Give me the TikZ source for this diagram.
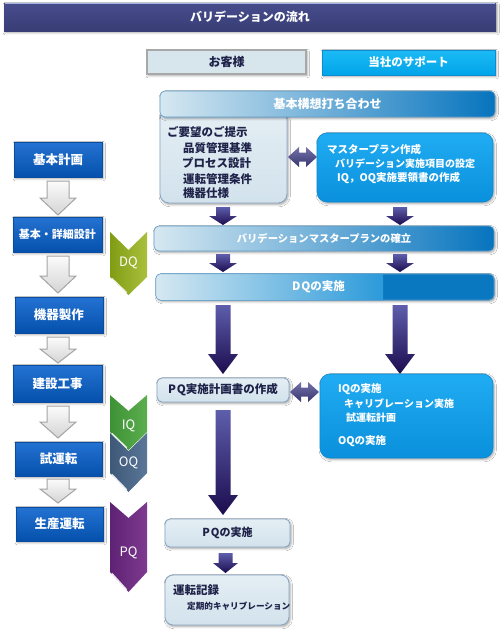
\documentclass[tikz,border=0pt]{standalone}
\usepackage{fontspec}
\setmainfont{Noto Sans CJK JP}
\usetikzlibrary{calc,shadows.blur}
\definecolor{titletop}{HTML}{474D8C}
\definecolor{titlebot}{HTML}{383D76}
\definecolor{titleedge}{HTML}{A7B4E6}
\definecolor{custfill}{HTML}{D7E5ED}
\definecolor{custdraw}{HTML}{A8A8A8}
\definecolor{supptop}{HTML}{1CBBF6}
\definecolor{suppbot}{HTML}{00A4E8}
\definecolor{barleft}{HTML}{D6E8F1}
\definecolor{barright}{HTML}{0674BE}
\definecolor{bardraw}{HTML}{5E9CC8}
\definecolor{lbtop}{HTML}{E4EEF4}
\definecolor{lbbot}{HTML}{D2E2EC}
\definecolor{lbdraw}{HTML}{8AA6C2}
\definecolor{cytop}{HTML}{20ACF2}
\definecolor{cybot}{HTML}{0A90DC}
\definecolor{cydraw}{HTML}{0C8AD2}
\definecolor{darktext}{HTML}{1E2248}
\definecolor{arrtop}{HTML}{5E5EAC}
\definecolor{arrbot}{HTML}{1C0C4E}
\definecolor{dbl}{HTML}{46438C}
\definecolor{leftop}{HTML}{2472D2}
\definecolor{lefbot}{HTML}{0450AC}
\definecolor{lefdraw}{HTML}{0A4C9E}
\definecolor{holtop}{HTML}{FBFBFB}
\definecolor{holbot}{HTML}{D4D4D4}
\definecolor{holdraw}{HTML}{A4A4A4}
\definecolor{dqa}{HTML}{809C14}
\definecolor{dqb}{HTML}{AAC03C}
\definecolor{iqa}{HTML}{3E9236}
\definecolor{iqb}{HTML}{5CAE4E}
\definecolor{oqa}{HTML}{3E5878}
\definecolor{oqb}{HTML}{5A7698}
\definecolor{pqa}{HTML}{5E2274}
\definecolor{pqb}{HTML}{7E3A90}
\definecolor{dqdark}{HTML}{0A78C0}
\definecolor{dqmid}{HTML}{2C9ADA}
\newcommand\jfs[1]{\fontsize{#1}{#1}\selectfont}
\newcommand\blockarrow[6]{%
  \path[#1] let \p1=(#2), \p2=(#3) in
    (\x1-#4,\y1) -- (\x1+#4,\y1) -- (\x1+#4,\y2+#6) -- (\x1+#5,\y2+#6)
    -- (\x1,\y2) -- (\x1-#5,\y2+#6) -- (\x1-#4,\y2+#6) -- cycle;}
\newcommand\dblarrow[2]{%
  \path[#2] let \p1=(#1) in
    (\x1-14.5pt,\y1) -- (\x1-3.5pt,\y1+10pt) -- (\x1-3.5pt,\y1+4.5pt)
    -- (\x1+3.5pt,\y1+4.5pt) -- (\x1+3.5pt,\y1+10pt) -- (\x1+14.5pt,\y1)
    -- (\x1+3.5pt,\y1-10pt) -- (\x1+3.5pt,\y1-4.5pt) -- (\x1-3.5pt,\y1-4.5pt)
    -- (\x1-3.5pt,\y1-10pt) -- cycle;}
\newcommand\chev[5]{%
  \path[#1] (110,#2) -- (128.5,#3) -- (147,#2) -- (147,#4) -- (128.5,#5) -- (110,#4) -- cycle;
  \draw[white,line width=1.3pt,opacity=0.85,line cap=round] (112,#4+1.5) -- (126.5,#5-2.5);}
\begin{document}
\begin{tikzpicture}[x=1pt,y=-1pt,
  sz/.style 2 args={minimum width=#1pt,minimum height=#2pt,inner sep=0pt},
  shad/.style={blur shadow={shadow xshift=1.2pt,shadow yshift=-1.6pt,shadow blur steps=4,shadow opacity=35}},
  titlebar/.style={top color=titletop,bottom color=titlebot,text=white,font=\jfs{12}\bfseries,shad},
  custbox/.style={fill=custfill,draw=custdraw,line width=1.2pt,text=darktext,font=\jfs{12}\bfseries,shad},
  suppbox/.style={top color=supptop,bottom color=suppbot,draw=cydraw,line width=0.6pt,text=white,font=\jfs{11.5}\bfseries,shad},
  barbox/.style={left color=barleft,right color=barright,draw=bardraw,line width=0.6pt,rounded corners=5pt,text=white,font=\jfs{12}\bfseries,shad},
  lbox/.style={top color=lbtop,bottom color=lbbot,draw=lbdraw,line width=0.9pt,rounded corners=5pt,text=darktext,font=\jfs{11.5}\bfseries,shad},
  cybox/.style={top color=cytop,bottom color=cybot,draw=cydraw,line width=0.6pt,rounded corners=10pt,shad},
  leftbox/.style={top color=leftop,bottom color=lefbot,draw=lefdraw,line width=0.8pt,text=white,font=\jfs{12.5}\bfseries,shad},
  dtxt/.style={anchor=west,inner sep=0pt,text=darktext,font=\jfs{11.5}\bfseries},
  wtxt/.style={anchor=west,inner sep=0pt,text=white,font=\jfs{10.5}\bfseries},
  darkarr/.style={top color=arrtop,bottom color=arrbot},
  hollow/.style={top color=holtop,bottom color=holbot,draw=holdraw,line width=1pt,line join=miter},
  dblstyle/.style={top color=dbl!75!white,bottom color=dbl!80!black},
  chevtxt/.style={inner sep=0pt,text=white,font=\jfs{13}}
]
\useasboundingbox (0,0) rectangle (500,632);
\fill[white] (0,0) rectangle (500,632);

% title and headers
\node[titlebar,sz={492}{28}] (title) at (250,17) {バリデーションの流れ};
\draw[titleedge,line width=1.5pt] ([xshift=1pt,yshift=-0.7pt]title.north west) -- ([xshift=-1pt,yshift=-0.7pt]title.north east);
\node[custbox,sz={159}{24}] (cust) at (226.5,62) {お客様};
\node[suppbox,sz={173}{25}] (supp) at (408.5,62.5) {当社のサポート};

% request box (drawn below the bar)
\node[lbox,rounded corners=9pt,sz={127}{93}] (req) at (223.5,156.5) {};
\node[barbox,sz={335}{26}] (kihon) at (327.5,104) {基本構想打ち合わせ};
\node[dtxt] (reqt) at (167,132) {ご要望のご提示};
\node[dtxt] (req1) at (183,148) {品質管理基準};
\node[dtxt] (req2) at (182,163) {プロセス設計};
\node[dtxt] (req3) at (183,179) {運転管理条件};
\node[dtxt] (req4) at (183,193.5) {機器仕様};

% master plan box
\node[cybox,sz={176}{69}] (mp) at (405,167.5) {};
\node[wtxt] (mp1) at (327,149) {マスタープラン作成};
\node[wtxt,font=\jfs{10}\bfseries] (mp2) at (335,164) {バリデーション実施項目の設定};
\node[wtxt] (mp3) at (337,178) {IQ，OQ実施要領書の作成};
\coordinate (d1) at (302.5,157);
\dblarrow{d1}{dblstyle}

% arrows to VMP
\coordinate (s1a) at (223,207); \coordinate (s1b) at (223,225);
\coordinate (s2a) at (400,207); \coordinate (s2b) at (400,225);
\blockarrow{darkarr}{s1a}{s1b}{7pt}{14pt}{9pt}
\blockarrow{darkarr}{s2a}{s2b}{7pt}{14pt}{9pt}

\node[barbox,sz={340}{25},font=\jfs{10.3}\bfseries] (vmp) at (324,238.5) {バリデーションマスタープランの確立};

\coordinate (s3a) at (223,254); \coordinate (s3b) at (223,272);
\coordinate (s4a) at (400,254); \coordinate (s4b) at (400,272);
\blockarrow{darkarr}{s3a}{s3b}{7pt}{14pt}{9pt}
\blockarrow{darkarr}{s4a}{s4b}{7pt}{14pt}{9pt}

% DQ bar
\node[sz={338}{26},rounded corners=5pt,fill=dqdark,draw=bardraw,line width=0.6pt,shad] (dqbar) at (325,287) {};
\begin{scope}
  \clip[rounded corners=5pt] (dqbar.north west) rectangle (dqbar.south east);
  \shade[left color=barleft,right color=dqmid] (dqbar.north west) rectangle (383,300);
\end{scope}
\draw[bardraw,line width=0.6pt,rounded corners=5pt] (dqbar.north west) rectangle (dqbar.south east);
\node[inner sep=0pt,text=white,font=\jfs{11.5}\bfseries] (dqt) at (318.5,286.5) {D\kern1ptQの実施};

% long arrows
\coordinate (L1a) at (223,305); \coordinate (L1b) at (223,374);
\coordinate (L2a) at (400,305); \coordinate (L2b) at (400,374);
\blockarrow{darkarr}{L1a}{L1b}{7.5pt}{15pt}{20pt}
\blockarrow{darkarr}{L2a}{L2b}{7.5pt}{15pt}{20pt}

% PQ plan and IQ box
\node[lbox,sz={132}{24}] (pqplan) at (223,390) {P\kern1ptQ実施計画書の作成};
\coordinate (d2) at (304.5,392);
\dblarrow{d2}{dblstyle}
\node[cybox,sz={173}{84}] (iqb) at (406.5,416) {};
\node[wtxt] (iq1) at (338,389) {IQの実施};
\node[wtxt,font=\jfs{10}\bfseries] (iq2) at (344,404) {キャリブレーション実施};
\node[wtxt,font=\jfs{10}\bfseries] (iq3) at (346,418) {試運転計画};
\node[wtxt] (iq4) at (338,441) {OQの実施};

\coordinate (L3a) at (223,410); \coordinate (L3b) at (223,515);
\blockarrow{darkarr}{L3a}{L3b}{7.5pt}{15pt}{20pt}

\node[lbox,sz={125}{28},font=\jfs{11}\bfseries] (pqdo) at (227.5,533) {P\kern1ptQの実施};
\coordinate (s5a) at (225.5,553); \coordinate (s5b) at (225.5,573);
\blockarrow{darkarr}{s5a}{s5b}{7pt}{12.5pt}{10pt}

\node[lbox,rounded corners=8pt,sz={124}{50}] (rec) at (227,600) {};
\node[dtxt] (rec1) at (173,590) {運転記録};
\node[dtxt,font=\jfs{8.6}\bfseries] (rec2) at (187,606) {定期的キャリブレーション};

% left column
\node[leftbox,sz={88}{35}] (p1) at (58,159.5) {基本計画};
\node[leftbox,sz={89}{35},font=\jfs{11}\bfseries] (p2) at (57.5,234.5) {基本・詳細設計};
\node[leftbox,sz={88}{36}] (p3) at (59,315) {機器製作};
\node[leftbox,sz={89}{37}] (p4) at (57.5,383.5) {建設工事};
\node[leftbox,sz={87}{34}] (p5) at (58.5,459) {試運転};
\node[leftbox,sz={87}{34}] (p6) at (59.5,524) {生産運転};

\coordinate (h1a) at (58,181); \coordinate (h1b) at (58,215);
\coordinate (h2a) at (58,256); \coordinate (h2b) at (58,293);
\coordinate (h3a) at (58,337); \coordinate (h3b) at (58,363);
\coordinate (h4a) at (58,406); \coordinate (h4b) at (58,438);
\coordinate (h5a) at (58,479); \coordinate (h5b) at (58,503);
\blockarrow{hollow}{h1a}{h1b}{11pt}{18pt}{17pt}
\blockarrow{hollow}{h2a}{h2b}{11pt}{18pt}{17pt}
\blockarrow{hollow}{h3a}{h3b}{11pt}{18pt}{14pt}
\blockarrow{hollow}{h4a}{h4b}{11pt}{18pt}{16pt}
\blockarrow{hollow}{h5a}{h5b}{11pt}{18pt}{14pt}

% chevrons
\chev{left color=dqa,right color=dqb}{232}{250}{277}{295}
\node[chevtxt] (dql) at (128.5,263) {DQ};
\chev{left color=oqa,right color=oqb}{433}{451}{473}{492}
\chev{left color=iqa,right color=iqb}{395}{411}{432}{450}
\node[chevtxt] (iql) at (128.5,425.5) {IQ};
\node[chevtxt] (oql) at (128.5,462.5) {OQ};
\chev{left color=pqa,right color=pqb}{502}{518}{572}{592}
\node[chevtxt] (pql) at (128.5,553) {PQ};
\end{tikzpicture}
\end{document}
